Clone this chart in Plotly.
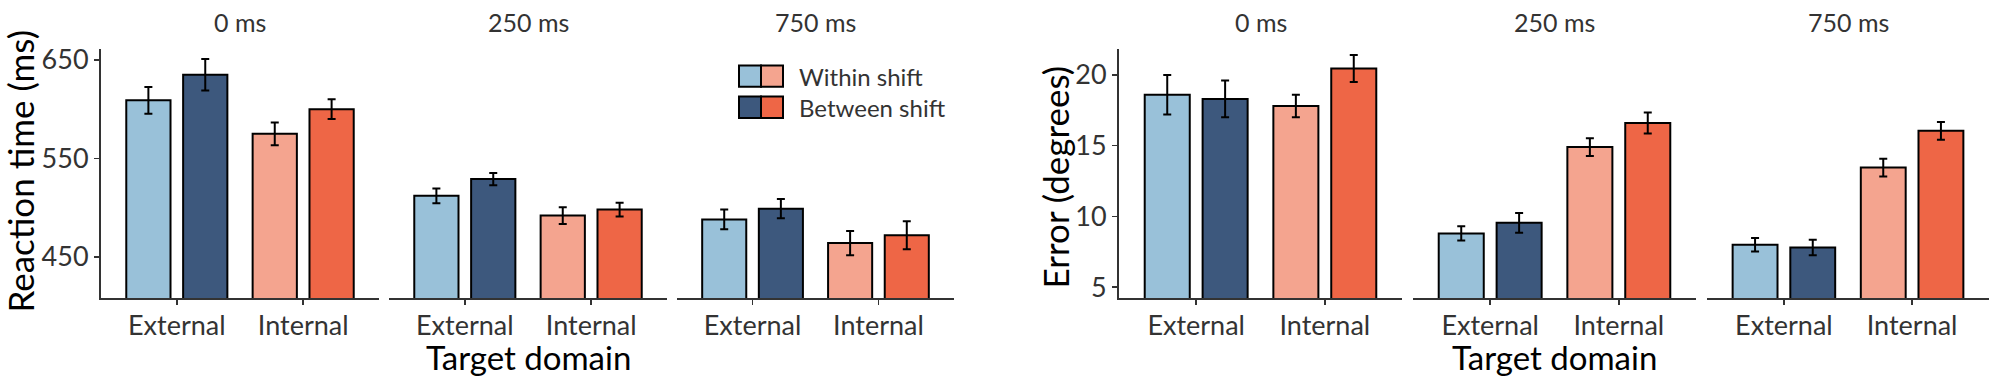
import plotly.graph_objects as go

# ---------------- data ----------------
delays = ["0 ms", "250 ms", "750 ms"]
domains = ["External", "Internal"]

# Reaction time (ms): per delay, [External, Internal]
rt_within = [[609, 575], [512, 492], [488, 464]]
rt_within_se = [[13.5, 11.5], [7.5, 8.5], [10.0, 12.4]]
rt_between = [[635, 600], [529, 498], [499, 472]]
rt_between_se = [[16.0, 10.0], [6.3, 7.0], [9.7, 14.3]]

# Error (degrees): per delay, [External, Internal]
err_within = [[18.6, 17.8], [8.8, 14.9], [8.0, 13.45]]
err_within_se = [[1.4, 0.8], [0.5, 0.63], [0.48, 0.63]]
err_between = [[18.3, 20.45], [9.55, 16.6], [7.8, 16.05]]
err_between_se = [[1.3, 0.95], [0.7, 0.74], [0.55, 0.63]]

rt_ticks = [450, 550, 650]
err_ticks = [5, 10, 15, 20]

# ---------------- style ----------------
W, H = 2000, 386
FONT = "Lato"
TXT = "#333333"
AX = "#333333"
within_colors = ["#99C1D9", "#F4A48F"]
between_colors = ["#3D587D", "#EE6646"]


def px(x):
    return x / W


def py(y):
    return 1 - y / H


# facet pixel extents (left chart, right chart)
facets_px = [(101, 379), (389, 667), (677, 954),
             (1119, 1402), (1413, 1696), (1707, 1989)]
plot_top, plot_bot = 44, 300
ydom = [py(plot_bot), py(plot_top)]

fig = go.Figure()

panels = []
for i in range(3):
    panels.append((rt_within[i], rt_within_se[i], rt_between[i], rt_between_se[i]))
for i in range(3):
    panels.append((err_within[i], err_within_se[i], err_between[i], err_between_se[i]))

for k, (wv, wse, bv, bse) in enumerate(panels):
    xa = "x" if k == 0 else f"x{k+1}"
    ya = "y" if k < 3 else "y2"
    for vals, se, cols in ((wv, wse, within_colors), (bv, bse, between_colors)):
        fig.add_trace(go.Bar(
            x=domains, y=vals, xaxis=xa, yaxis=ya,
            marker=dict(color=cols, line=dict(color="black", width=2)),
            error_y=dict(type="data", array=se, color="black", thickness=2, width=4),
            showlegend=False, hoverinfo="skip",
        ))

layout = dict(
    width=W, height=H,
    margin=dict(l=0, r=0, t=0, b=0),
    paper_bgcolor="white", plot_bgcolor="white",
    barmode="group", bargap=0.1, bargroupgap=0.222,
    showlegend=False,
    font=dict(family=FONT, color=TXT),
)

for k, (x0, x1) in enumerate(facets_px):
    name = "xaxis" if k == 0 else f"xaxis{k+1}"
    layout[name] = dict(
        domain=[px(x0), px(x1)],
        anchor="y" if k < 3 else "y2",
        type="category", range=[-0.6, 1.6],
        showline=True, linecolor=AX, linewidth=2,
        ticks="outside", ticklen=5, tickwidth=1.5, tickcolor=AX,
        tickfont=dict(family=FONT, size=27, color=TXT),
        ticklabelstandoff=-3,
        showgrid=False, zeroline=False, fixedrange=True,
    )

layout["yaxis"] = dict(
    domain=ydom, anchor="x", range=[408, 661.3],
    tickvals=rt_ticks, ticks="outside", ticklen=5, tickwidth=1.5, tickcolor=AX,
    showline=True, linecolor=AX, linewidth=2,
    tickfont=dict(family=FONT, size=27, color=TXT),
    showgrid=False, zeroline=False,
)
layout["yaxis2"] = dict(
    domain=ydom, anchor="x4", range=[4.22, 21.84],
    tickvals=err_ticks, ticks="outside", ticklen=5, tickwidth=1.5, tickcolor=AX,
    showline=True, linecolor=AX, linewidth=2,
    tickfont=dict(family=FONT, size=27, color=TXT),
    showgrid=False, zeroline=False,
)

annotations = []
# facet titles
for k, (x0, x1) in enumerate(facets_px):
    annotations.append(dict(
        text=delays[k % 3], x=px((x0 + x1) / 2), y=py(16),
        xref="paper", yref="paper", xanchor="center", yanchor="middle",
        showarrow=False, font=dict(family=FONT, size=25, color=TXT)))
# x titles
for cx in ((facets_px[1][0] + facets_px[1][1]) / 2, (facets_px[4][0] + facets_px[4][1]) / 2):
    annotations.append(dict(
        text="Target domain", x=px(cx), y=py(360),
        xref="paper", yref="paper", xanchor="center", yanchor="middle",
        showarrow=False, font=dict(family=FONT, size=33, color="black")))
# y titles
annotations.append(dict(
    text="Reaction time (ms)", x=px(20), y=py(170), textangle=-90,
    xref="paper", yref="paper", xanchor="center", yanchor="middle",
    showarrow=False, font=dict(family=FONT, size=35, color="black")))
annotations.append(dict(
    text="Error (degrees)", x=px(1055), y=py(176), textangle=-90,
    xref="paper", yref="paper", xanchor="center", yanchor="middle",
    showarrow=False, font=dict(family=FONT, size=35, color="black")))

# legend (two-colour swatches)
legend_labels = ["Within shift", "Between shift"]
legend_rows = [(61, 83), (93, 115)]
shapes = []
for (y0, y1), lab, cols in zip(legend_rows, legend_labels, (within_colors, between_colors)):
    shapes.append(dict(type="rect", xref="paper", yref="paper",
                       x0=px(739), x1=px(761), y0=py(y1), y1=py(y0),
                       fillcolor=cols[0], line=dict(color="black", width=2)))
    shapes.append(dict(type="rect", xref="paper", yref="paper",
                       x0=px(761), x1=px(783), y0=py(y1), y1=py(y0),
                       fillcolor=cols[1], line=dict(color="black", width=2)))
    annotations.append(dict(
        text=lab, x=px(797), y=py((y0 + y1) / 2),
        xref="paper", yref="paper", xanchor="left", yanchor="middle",
        showarrow=False, font=dict(family=FONT, size=24, color=TXT)))

layout["annotations"] = annotations
layout["shapes"] = shapes
fig.update_layout(**layout)

fig.write_html(
    "out.html",
    config={"displayModeBar": False, "staticPlot": True},
    post_script="document.body.style.margin='0px';document.body.style.overflow='hidden';",
)
